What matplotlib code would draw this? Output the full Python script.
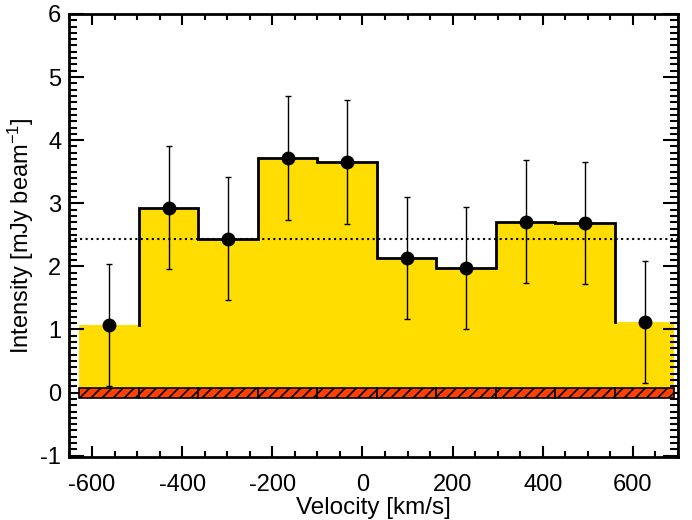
import numpy as np
import matplotlib
matplotlib.use("Agg")
import matplotlib.pyplot as plt
from matplotlib.ticker import MultipleLocator

plt.rcParams['font.family'] = ['Liberation Sans', 'DejaVu Sans']
plt.rcParams['mathtext.fontset'] = 'custom'
plt.rcParams['mathtext.rm'] = 'Liberation Sans'
plt.rcParams['mathtext.it'] = 'Liberation Sans'
plt.rcParams['hatch.linewidth'] = 1.2

# data
velocity = [-562, -430, -298, -166, -34, 98, 230, 362, 494, 626]
intensity = [1.07, 2.93, 2.44, 3.72, 3.65, 2.13, 1.97, 2.71, 2.69, 1.12]
error = [0.97, 0.97, 0.97, 0.98, 0.98, 0.97, 0.97, 0.97, 0.97, 0.97]
channel_width = 132
mean_level = 2.44
noise_low = -0.09
noise_high = 0.07

v = np.array(velocity, dtype=float)
f = np.array(intensity)
edges = np.concatenate([v - channel_width / 2, [v[-1] + channel_width / 2]])

fig = plt.figure(figsize=(6.92, 5.20), dpi=100)
ax = fig.add_axes([0.1004, 0.1212, 0.8794, 0.852])

# yellow filled histogram
ax.stairs(f, edges, fill=True, color='#FFDD00', baseline=0, zorder=1)

# black step outline (skipping outer tops)
xs = []
ys = []
for i in range(1, len(f)):
    xs += [edges[i], edges[i]]
    ys += [f[i - 1], f[i]]
    if i < len(f) - 1:
        xs += [edges[i + 1]]
        ys += [f[i]]
ax.plot(xs, ys, color='black', lw=2.0, zorder=3, solid_joinstyle='miter')

# hatched noise band per channel
ax.bar(v, noise_high - noise_low, width=channel_width, bottom=noise_low,
       color='#FF4000', edgecolor='black', hatch='///', lw=1.2, zorder=2)

# mean level
ax.axhline(mean_level, color='black', ls=':', lw=1.5, zorder=2)

# points with error bars
ax.errorbar(v, f, yerr=error, fmt='o', color='black', ms=9, elinewidth=1.0,
            capsize=2.5, capthick=1.0, zorder=4)

ax.set_xlim(-650, 700)
ax.set_ylim(-1.02, 6.0)
ax.xaxis.set_major_locator(MultipleLocator(200))
ax.xaxis.set_minor_locator(MultipleLocator(50))
ax.yaxis.set_major_locator(MultipleLocator(1))
ax.yaxis.set_minor_locator(MultipleLocator(0.1))
ax.tick_params(axis='both', which='both', direction='in', top=True, right=True,
               labelsize=17, width=1.5, colors='black')
ax.tick_params(axis='x', which='major', length=8, pad=12)
ax.tick_params(axis='x', which='minor', length=4)
ax.tick_params(axis='y', which='major', length=11, pad=6)
ax.tick_params(axis='y', which='minor', length=6)
for s in ax.spines.values():
    s.set_linewidth(2)

ax.set_xticks([-600, -400, -200, 0, 200, 400, 600])
ax.set_xticklabels(['-600', '-400', '-200', '0', '200', '400', '600'])
ax.set_yticks([-1, 0, 1, 2, 3, 4, 5, 6])
ax.set_yticklabels(['-1', '0', '1', '2', '3', '4', '5', '6'])

ax.set_xlabel('Velocity [km/s]', fontsize=17.5, labelpad=1)
ax.set_ylabel(r'Intensity [mJy beam$^{-1}$]', fontsize=17, labelpad=3)

fig.savefig('out.png', dpi=100)
